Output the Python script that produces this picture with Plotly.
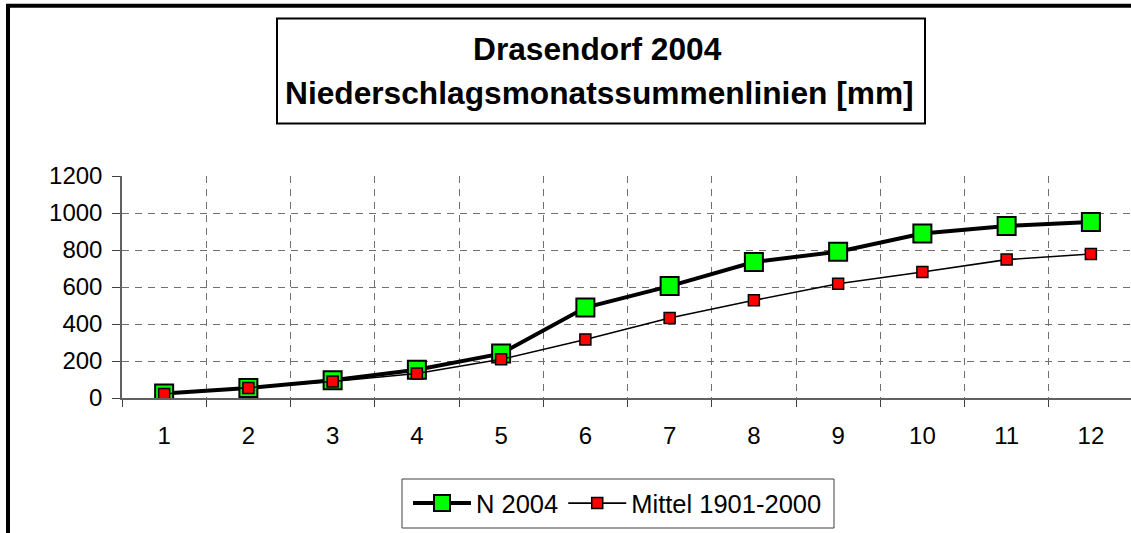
import plotly.graph_objects as go

months = ["1", "2", "3", "4", "5", "6", "7", "8", "9", "10", "11", "12"]
n_2004 = [24, 54, 96, 153, 240, 489, 605, 735, 791, 889, 930, 951]
mittel_1901_2000 = [22, 54, 89, 132, 209, 316, 432, 528, 618, 681, 748, 778]
y_ticks = [0, 200, 400, 600, 800, 1000, 1200]
title_line1 = "Drasendorf 2004"
title_line2 = "Niederschlagsmonatssummenlinien [mm]"
name_n = "N 2004"
name_m = "Mittel 1901-2000"

W, H = 1131, 533
L, T = 122, 176
PW, PH = W - L, 222
B = H - T - PH


def px(x):
    return (x - L) / PW


def py(y):
    return (T + PH - y) / PH


FONT = "Arial, Liberation Sans, sans-serif"

fig = go.Figure()
fig.add_trace(go.Scatter(
    x=months, y=n_2004, name=name_n, mode="lines+markers",
    line=dict(color="black", width=4),
    marker=dict(symbol="square", size=18, color="#00FF00",
                line=dict(color="black", width=2)),
))
fig.add_trace(go.Scatter(
    x=months, y=mittel_1901_2000, name=name_m, mode="lines+markers",
    line=dict(color="black", width=1.6),
    marker=dict(symbol="square", size=11, color="#FF0000",
                line=dict(color="black", width=1.5)),
))

fig.update_layout(
    width=W, height=H,
    margin=dict(l=L, r=0, t=T, b=B, pad=0),
    paper_bgcolor="white", plot_bgcolor="white",
    font=dict(family=FONT, size=24, color="black"),
    showlegend=True,
    legend=dict(
        orientation="h", x=px(408), y=py(480), xanchor="left", yanchor="top",
        borderwidth=0, bgcolor="rgba(0,0,0,0)",
        font=dict(size=25.5, family=FONT, color="black"),
        itemwidth=58, tracegroupgap=0,
    ),
    xaxis=dict(
        type="category", categoryorder="array", categoryarray=months,
        range=[-0.5, 11.5 - 2 / 84.25],
        tickson="boundaries", ticks="outside", ticklen=7, tickwidth=1,
        tickcolor="#404040",
        showline=True, linecolor="#606060", linewidth=1.5,
        showgrid=True, gridcolor="#707070", gridwidth=1, griddash="7px,6px",
        tickfont=dict(size=24, family=FONT, color="black"),
        ticklabelstandoff=15, fixedrange=True,
    ),
    yaxis=dict(
        range=[0, 1200], tickvals=y_ticks, ticktext=[str(v) for v in y_ticks],
        ticks="outside", ticklen=8, tickwidth=1, tickcolor="#404040",
        showline=True, linecolor="#606060", linewidth=1.5,
        showgrid=True, gridcolor="#707070", gridwidth=1, griddash="7px,6px",
        zeroline=False,
        tickfont=dict(size=24, family=FONT, color="black"),
        ticklabelstandoff=5, fixedrange=True,
    ),
)

# outer frame (thick black lines on top and left)
fig.add_shape(type="line", xref="paper", yref="paper",
              x0=px(6), x1=px(W + 5), y0=py(5.7), y1=py(5.7),
              line=dict(color="black", width=4))
fig.add_shape(type="line", xref="paper", yref="paper",
              x0=px(8), x1=px(8), y0=py(4), y1=py(H + 5),
              line=dict(color="black", width=4))

# title box
fig.add_shape(type="rect", xref="paper", yref="paper",
              x0=px(277), x1=px(925), y0=py(18.5), y1=py(123.5),
              line=dict(color="black", width=2), fillcolor="white")

# legend box
fig.add_shape(type="rect", xref="paper", yref="paper",
              x0=px(402), x1=px(834), y0=py(479), y1=py(528),
              line=dict(color="#404040", width=1), fillcolor="rgba(0,0,0,0)")

fig.add_annotation(text="<b>" + title_line1 + "</b>", xref="paper", yref="paper",
                   x=px(597.5), y=py(49), xanchor="center", yanchor="middle",
                   showarrow=False, font=dict(size=31.7, family=FONT, color="black"))
fig.add_annotation(text="<b>" + title_line2 + "</b>", xref="paper", yref="paper",
                   x=px(599), y=py(93), xanchor="center", yanchor="middle",
                   showarrow=False, font=dict(size=31.7, family=FONT, color="black"))

fig.write_html(
    "out.html",
    config={"displayModeBar": False},
    post_script="document.body.style.margin='0';document.body.style.padding='0';"
                "document.body.style.overflow='hidden';",
)
